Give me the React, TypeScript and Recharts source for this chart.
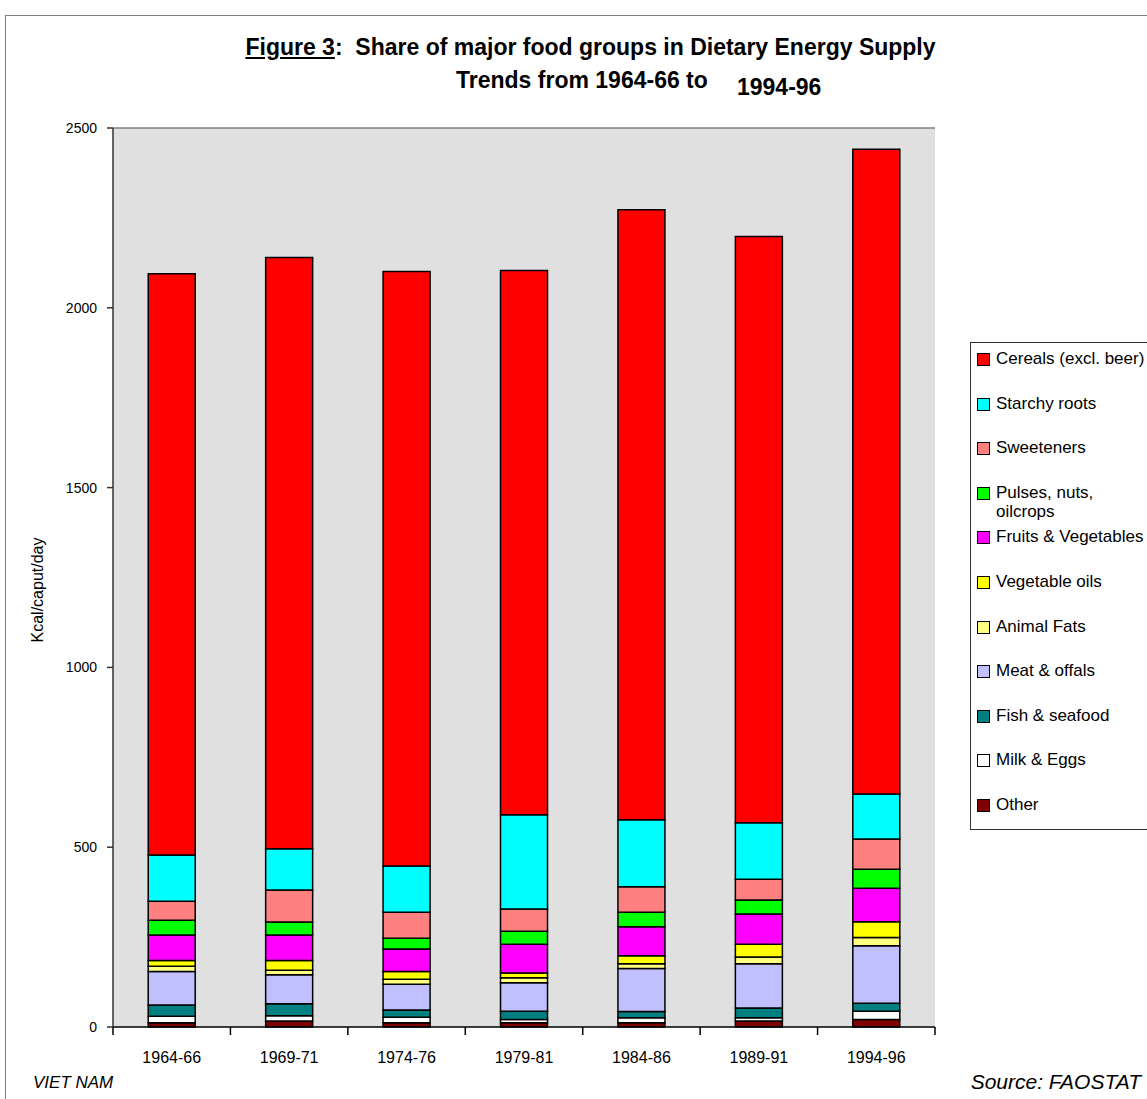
import { BarChart, Bar, XAxis, YAxis, CartesianGrid, ReferenceLine } from 'recharts';

const periods = ['1964-66', '1969-71', '1974-76', '1979-81', '1984-86', '1989-91', '1994-96'];

// kcal/caput/day per food group
const other = [12, 17, 12, 12, 12, 17, 21];
const milkEggs = [18, 14, 15, 9, 14, 9, 23];
const fish = [31, 34, 20, 23, 17, 27, 22];
const meat = [93, 80, 72, 79, 120, 123, 160];
const animalFats = [15, 13, 14, 14, 13, 19, 23];
const vegOils = [16, 27, 21, 13, 22, 35, 44];
const fruitsVeg = [71, 71, 63, 80, 81, 84, 93];
const pulses = [41, 36, 30, 36, 40, 39, 53];
const sweeteners = [53, 89, 72, 62, 71, 58, 84];
const starchyRoots = [128, 115, 129, 262, 186, 157, 125];
const cereals = [1617, 1644, 1653, 1514, 1697, 1630, 1793];

const yTicks = [0, 500, 1000, 1500, 2000, 2500];

// stacking order: bottom first
const groups = [
    { key: 'other', name: 'Other', color: '#800000', values: other },
    { key: 'milk', name: 'Milk & Eggs', color: '#FFFFFF', values: milkEggs },
    { key: 'fish', name: 'Fish & seafood', color: '#008080', values: fish },
    { key: 'meat', name: 'Meat & offals', color: '#C0C0FF', values: meat },
    { key: 'afats', name: 'Animal Fats', color: '#FFFF80', values: animalFats },
    { key: 'voils', name: 'Vegetable oils', color: '#FFFF00', values: vegOils },
    { key: 'fruit', name: 'Fruits & Vegetables', color: '#FF00FF', values: fruitsVeg },
    { key: 'pulses', name: 'Pulses, nuts, oilcrops', color: '#00FF00', values: pulses },
    { key: 'sweet', name: 'Sweeteners', color: '#FF8080', values: sweeteners },
    { key: 'roots', name: 'Starchy roots', color: '#00FFFF', values: starchyRoots },
    { key: 'cereals', name: 'Cereals (excl. beer)', color: '#FF0000', values: cereals },
];

const data = periods.map((period, i) => {
    const row: Record<string, string | number> = { period };
    groups.forEach(g => { row[g.key] = g.values[i]; });
    return row;
});

const font = '"Liberation Sans", Arial, sans-serif';

// tick marks sit on the category boundaries, not the centres
function EdgeTick(props: any) {
    const { x, y, payload, index, visibleTicksCount } = props;
    const half = payload && payload.offset ? payload.offset : 58.7;
    const last = index === visibleTicksCount - 1;
    return (
        <g>
            <line x1={x - half} x2={x - half} y1={y} y2={y + 8} stroke="#000" strokeWidth={1.5} />
            {last && <line x1={x + half} x2={x + half} y1={y} y2={y + 8} stroke="#000" strokeWidth={1.5} />}
        </g>
    );
}

export default function App() {
    const legendItems = [...groups].reverse();

    return (
        <div style={{ position: 'absolute', left: 0, top: 0, width: 1147, height: 1099, overflow: 'hidden', background: '#fff', fontFamily: font }}>
            {/* outer frame */}
            <div style={{ position: 'absolute', left: 5, top: 15, width: 1300, height: 1300, border: '1.5px solid #808080' }} />

            {/* title */}
            <div style={{ position: 'absolute', left: 0, width: 1147, top: 34, textAlign: 'center', fontWeight: 'bold', fontSize: 23, paddingLeft: 34, boxSizing: 'border-box', whiteSpace: 'nowrap' }}>
                <span style={{ textDecoration: 'underline' }}>Figure 3</span>:&nbsp; Share of major food groups in Dietary Energy Supply
            </div>
            <div style={{ position: 'absolute', left: 456, top: 67, fontWeight: 'bold', fontSize: 23, whiteSpace: 'nowrap' }}>
                Trends from 1964-66 to
            </div>
            <div style={{ position: 'absolute', left: 737, top: 74, fontWeight: 'bold', fontSize: 23 }}>1994-96</div>

            {/* y axis title */}
            <div style={{ position: 'absolute', left: 38, top: 590, transform: 'translate(-50%, -50%) rotate(-90deg)', fontSize: 16, whiteSpace: 'nowrap' }}>
                Kcal/caput/day
            </div>

            <div style={{ position: 'absolute', left: 0, top: 0 }}>
                <BarChart width={1147} height={1099} data={data} barCategoryGap="30%"
                    margin={{ top: 128, right: 212, bottom: 34, left: 53 }}>
                    <CartesianGrid xAxisId="b" fill="#E0E0E0" horizontal={false} vertical={false} />
                    <XAxis xAxisId="a" dataKey="period" height={8} tickLine={false} tickSize={0} tickMargin={0}
                        tick={<EdgeTick />} stroke="#000" strokeWidth={1.5} />
                    <XAxis xAxisId="b" dataKey="period" height={30} axisLine={false} tickLine={false}
                        tickMargin={11} tick={{ fill: '#000', fontSize: 16, fontFamily: font }} />
                    <YAxis domain={[0, 2500]} ticks={yTicks} width={60} tickSize={6} tickMargin={10}
                        stroke="#333" strokeWidth={1.5} tick={{ fill: '#000', fontSize: 14, fontFamily: font }} />
                    <YAxis yAxisId="r" orientation="right" domain={[0, 2500]} width={0} tick={false}
                        tickLine={false} stroke="#808080" strokeWidth={1.5} />
                    <ReferenceLine xAxisId="b" y={2500} stroke="#808080" strokeWidth={1.5} />
                    {groups.map(g => (
                        <Bar key={g.key} xAxisId="b" dataKey={g.key} name={g.name} stackId="a"
                            fill={g.color} stroke="#000" strokeWidth={1.5} isAnimationActive={false} />
                    ))}
                </BarChart>
            </div>

            {/* legend */}
            <div style={{ position: 'absolute', left: 970, top: 342, width: 300, height: 486, border: '1.5px solid #333', background: '#fff' }}>
                {legendItems.map((g, i) => (
                    <div key={g.key} style={{ position: 'absolute', left: 6, top: 6 + i * 44.6, display: 'flex', alignItems: 'flex-start' }}>
                        <div style={{ width: 11, height: 11, marginTop: 4, background: g.color, border: '1.5px solid #000' }} />
                        <div style={{ marginLeft: 6, fontSize: 17, lineHeight: '19px', width: g.key === 'pulses' ? 110 : 220 }}>{g.name}</div>
                    </div>
                ))}
            </div>

            {/* footer */}
            <div style={{ position: 'absolute', left: 33, top: 1073, fontStyle: 'italic', fontSize: 17 }}>VIET NAM</div>
            <div style={{ position: 'absolute', right: 6, top: 1070, fontStyle: 'italic', fontSize: 21 }}>Source: FAOSTAT</div>
        </div>
    );
}
